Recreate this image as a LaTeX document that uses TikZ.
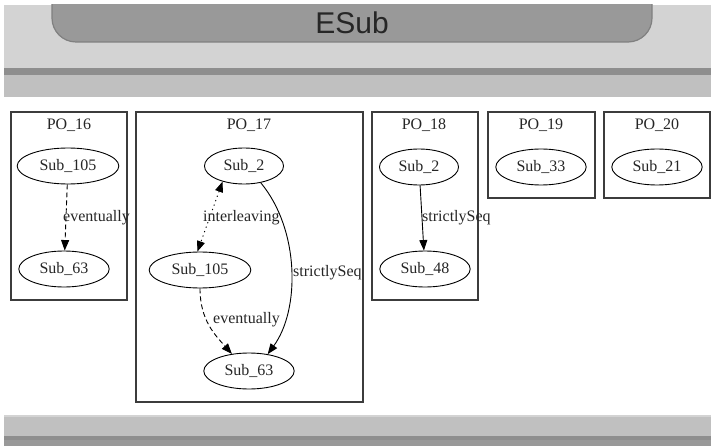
\documentclass[tikz,border=0pt]{standalone}
\usepackage{fontspec}
\setmainfont{Liberation Serif}
\newfontfamily\titlefont{Liberation Sans}
\usetikzlibrary{shapes.geometric,arrows.meta,positioning}
\definecolor{barlight}{HTML}{D3D3D3}
\definecolor{barmid}{HTML}{C0C0C0}
\definecolor{bardark}{HTML}{8E8E8E}
\definecolor{tabgray}{HTML}{999999}
\definecolor{boxline}{HTML}{3C3C3C}

\begin{document}
\begin{tikzpicture}[
    x=1pt, y=-1pt,
    font=\fontsize{16}{18}\selectfont,
    sub/.style={draw, ellipse, line width=0.9pt, inner xsep=7.5pt, minimum height=36pt, text=black!85},
    cluster/.style={draw=boxline, line width=1.3pt},
    clabel/.style={text=black!85},
    elabel/.style={text=black!85, inner sep=0pt, anchor=west},
    arrow/.style={-{Triangle[length=10.5pt,width=8pt]}, line width=0.9pt},
    dashedge/.style={arrow, dash pattern=on 5pt off 3pt},
    dotedge/.style={{Triangle[length=10.5pt,width=8pt]}-{Triangle[length=10.5pt,width=8pt]}, line width=0.9pt, dash pattern=on 1.2pt off 3.5pt}
]
\useasboundingbox (0,0) rectangle (711,446);
\fill[white] (0,0) rectangle (711,446);

% Header bar
\fill[barlight] (4,5) rectangle (711,68);
\fill[bardark] (4,68) rectangle (711,75);
\fill[barmid] (4,75) rectangle (711,97);
\begin{scope}
  \clip (0,5) rectangle (711,68);
  \fill[tabgray, draw=black!50, line width=1.2pt, rounded corners=24pt] (52,-30) rectangle (652,42);
\end{scope}
\node[font=\titlefont\fontsize{30}{32}\selectfont, text=black!85] (title) at (352,23) {ESub};

% Footer bar
\fill[barlight] (4,415) rectangle (711,417);
\fill[barmid] (4,417) rectangle (711,436);
\fill[bardark] (4,436) rectangle (711,440);
\fill[black!40] (4,440) rectangle (711,446);

% PO_16
\draw[cluster] (11,112) rectangle (127,300);
\node[clabel] (po16) at (69,125) {PO\_16};
\node[sub] (a105) at (68,166) {Sub\_105};
\node[sub] (a63) at (64,269) {Sub\_63};
\draw[dashedge] (a105) -- (a63);
\node[elabel] (a105a63) at (63,218) {eventually};

% PO_17
\draw[cluster] (136,112) rectangle (363,402);
\node[clabel] (po17) at (249,125) {PO\_17};
\node[sub] (b2) at (244,166) {Sub\_2};
\node[sub] (b105) at (200,270) {Sub\_105};
\node[sub] (b63) at (249,371) {Sub\_63};
\draw[dotedge] (b2.216) -- (b105.98);
\draw[arrow] (b2.-45) .. controls (300,230) and (300,310) .. (b63.42);
\draw[dashedge] (b105.south) .. controls (200,320) and (215,335) .. (b63.135);
\node[elabel] (b2b105) at (203,218) {interleaving};
\node[elabel] (b2b63) at (293,273) {strictlySeq};
\node[elabel] (b105b63) at (213,320) {eventually};

% PO_18
\draw[cluster] (372,112) rectangle (478,300);
\node[clabel] (po18) at (424,125) {PO\_18};
\node[sub] (c2) at (419,167) {Sub\_2};
\node[sub] (c48) at (425,269) {Sub\_48};
\draw[arrow] (c2) -- (c48);
\node[elabel] (c2c48) at (422,218) {strictlySeq};

% PO_19
\draw[cluster] (488,112) rectangle (595,198);
\node[clabel] (po19) at (541,125) {PO\_19};
\node[sub] (d33) at (541,167) {Sub\_33};

% PO_20
\draw[cluster] (604,112) rectangle (710,198);
\node[clabel] (po20) at (657,125) {PO\_20};
\node[sub] (e21) at (657,167) {Sub\_21};

\end{tikzpicture}
\end{document}
